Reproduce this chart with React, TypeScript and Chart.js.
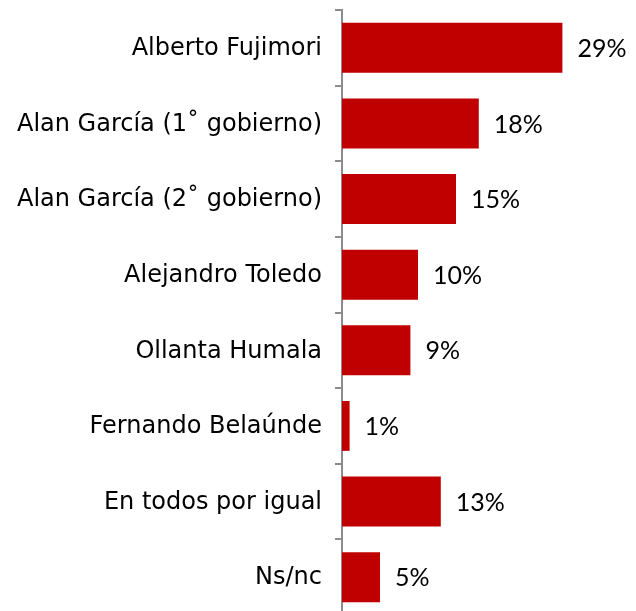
import React, { useEffect, useRef } from "react";
import { Chart, registerables } from "chart.js";

Chart.register(...registerables);

const categories = [
  "Alberto Fujimori",
  "Alan García (1˚ gobierno)",
  "Alan García (2˚ gobierno)",
  "Alejandro Toledo",
  "Ollanta Humala",
  "Fernando Belaúnde",
  "En todos por igual",
  "Ns/nc",
];
const values = [29, 18, 15, 10, 9, 1, 13, 5];
const valueLabels = ["29%", "18%", "15%", "10%", "9%", "1%", "13%", "5%"];

const FONT = "'DejaVu Sans', sans-serif";
const VALUE_FONT = "'Liberation Sans Narrow', 'Lato', sans-serif";

const valueLabelPlugin = {
  id: "valueLabels",
  afterDatasetsDraw(chart: any) {
    const ctx = chart.ctx;
    const meta = chart.getDatasetMeta(0);
    ctx.save();
    ctx.font = `25px ${VALUE_FONT}`;
    ctx.fillStyle = "#000";
    ctx.textAlign = "left";
    ctx.textBaseline = "middle";
    meta.data.forEach((bar: any, i: number) => {
      ctx.fillText(valueLabels[i], bar.x + 15, bar.y + 1);
    });
    ctx.restore();
  },
};

export default function App() {
  const ref = useRef<HTMLCanvasElement>(null);
  useEffect(() => {
    if (!ref.current) return;
    const chart = new Chart(ref.current, {
      type: "bar",
      data: {
        labels: categories,
        datasets: [
          {
            data: values,
            backgroundColor: "#C00000",
            borderWidth: 0,
            barPercentage: 0.66,
            categoryPercentage: 1,
          },
        ],
      },
      options: {
        indexAxis: "y",
        responsive: false,
        animation: false,
        layout: { padding: { top: 10, bottom: 10, right: 28, left: 0 } },
        plugins: { legend: { display: false }, tooltip: { enabled: false } },
        scales: {
          x: { display: false, min: 0, max: 35 },
          y: {
            afterFit: (scale: any) => {
              scale.width = 342;
              scale.paddingTop = 0;
              scale.paddingBottom = 0;
            },
            grid: {
              drawOnChartArea: false,
              drawTicks: true,
              tickLength: 7,
              color: "#8c8c8c",
              lineWidth: 2,
            },
            border: { display: true, color: "#8c8c8c", width: 2 },
            ticks: {
              color: "#000",
              padding: 13,
              labelOffset: 1,
              font: { family: FONT, size: 24 },
            },
          },
        },
      },
      plugins: [valueLabelPlugin],
    });
    return () => chart.destroy();
  }, []);
  return (
    <div
      style={{
        position: "absolute",
        left: 0,
        top: 0,
        width: 636,
        height: 611,
        overflow: "hidden",
        background: "#fff",
      }}
    >
      <canvas ref={ref} width={636} height={625} />
    </div>
  );
}
